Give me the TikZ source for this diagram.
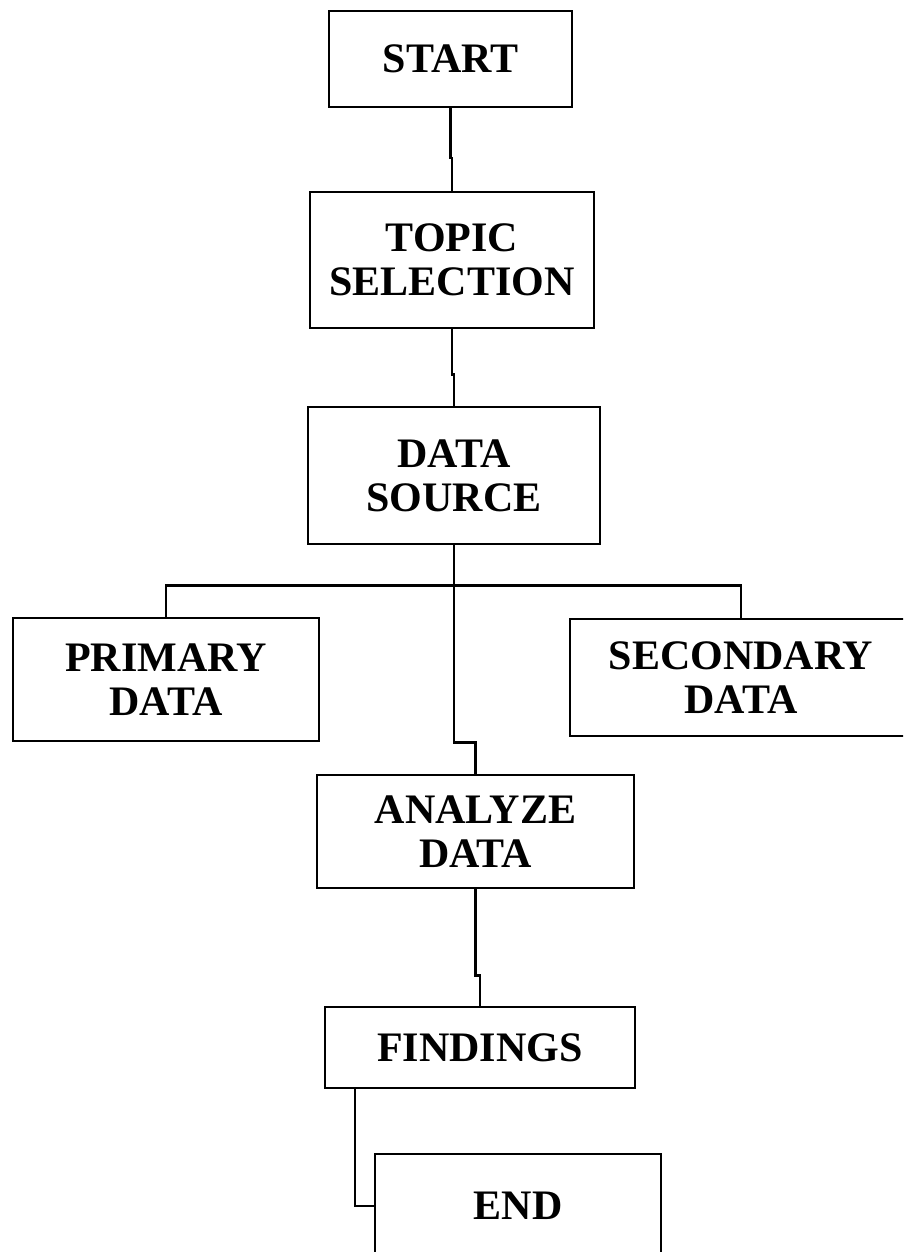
\documentclass[tikz,border=0pt]{standalone}
\usepackage{fontspec}
\setmainfont{Liberation Serif}
\begin{document}
\begin{tikzpicture}[x=1pt, y=-1pt,
    box/.style={draw, line width=2.8pt, inner sep=0pt, align=center,
      font=\fontsize{42}{44}\selectfont\bfseries}]
  \clip (0,0) rectangle (903,1252);
  \draw
    (450.5,59) node[box, minimum width=243pt, minimum height=96pt] (start){START}
    (452,260) node[box, minimum width=284pt, minimum height=136pt] (topic){TOPIC\\SELECTION}
    (454,475.5) node[box, minimum width=292pt, minimum height=137pt] (source){DATA\\SOURCE}
    (166,679.5) node[box, minimum width=306pt, minimum height=123pt] (primary){PRIMARY\\DATA}
    (741,677.5) node[box, minimum width=342pt, minimum height=117pt] (secondary){SECONDARY\\DATA}
    (475.5,831.5) node[box, minimum width=317pt, minimum height=113pt] (analyze){ANALYZE\\DATA}
    (480,1047.5) node[box, minimum width=310pt, minimum height=81pt] (findings){FINDINGS}
    (518,1206) node[box, minimum width=286pt, minimum height=104pt] (end){END};
  \begin{scope}[line width=2.2pt]
    \draw (start.south) -- ++(0,50) -| (topic.north);
    \draw (topic.south) -- ++(0,45) -| (source.north);
    \draw (source.south) -- ++(0,40) -| (primary.north);
    \draw (source.south) -- ++(0,40) -| (secondary.north);
    \draw (source.south) -- ++(0,197) -| (analyze.north);
    \draw (analyze.south) -- ++(0,86) -| (findings.north);
    \draw ([xshift=31pt]findings.south west) |- (end.west);
  \end{scope}
\end{tikzpicture}
\end{document}
